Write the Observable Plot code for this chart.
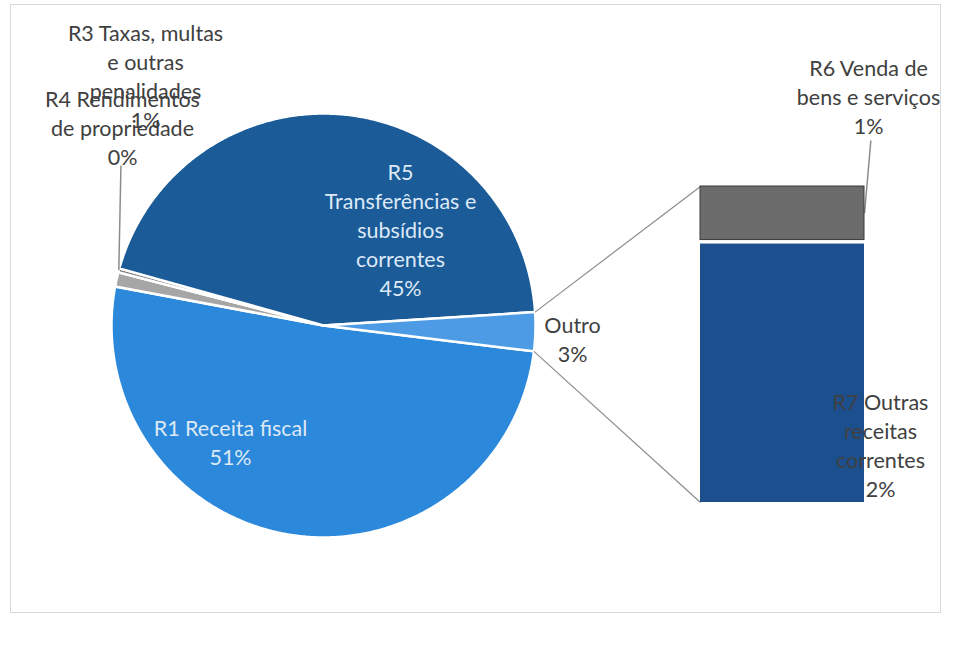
<!DOCTYPE html>
<html><head><meta charset="utf-8">
<script src="https://cdn.jsdelivr.net/npm/d3@7"></script>
<script src="https://cdn.jsdelivr.net/npm/@observablehq/plot@0.6"></script>
<style>body{margin:0;background:#fff;font-family:Lato,sans-serif}</style>
</head><body><div id="chart"></div>
<script>
// ---- data ----
const pieCategories = ["R1 Receita fiscal", "R3 Taxas, multas e outras penalidades", "R4 Rendimentos de propriedade", "R5 Transferências e subsídios correntes"];
const pieValues = [51.0, 1.1, 0.3, 44.65];
const barCategories = ["R6 Venda de bens e serviços", "R7 Outras receitas correntes"];
const barValues = [0.5, 2.45];
const otherName = "Outro";
// label text with line breaks as in the reference
const pieLabelText = ["R1 Receita fiscal", "R3 Taxas, multas\ne outras\npenalidades", "R4 Rendimentos\nde propriedade", "R5\nTransferências e\nsubsídios\ncorrentes"];
const barLabelText = ["R6 Venda de\nbens e serviços", "R7 Outras\nreceitas\ncorrentes"];

// ---- styles / layout ----
const pieColors = ["#2b88da", "#a6a6a6", "#7f7f7f", "#1b5b98"];
const otherColor = "#4c9be4";
const barColors = ["#6c6c6c", "#1c4f8e"];
const W = 954, H = 654, cx = 323, cy = 325, R = 212;
const startAngle = 97; // degrees clockwise from 12 o'clock
const barPx = {left: 700, right: 864, top: 186, bottom: 502};
const pieLabelPx = [[230, 441, "#dde9f6"], [145, 75, "#404040"], [122, 126, "#404040"], [400, 228, "#dde9f6"]];
const otherLabelPx = [572, 338];
const barLabelPx = [[868, 95], [880, 444]];
const ux = px => (px - cx) / R, uy = py => (cy - py) / R;
const fmt = v => Math.round(v) + "%";

// ---- derived geometry ----
const total = d3.sum(pieValues) + d3.sum(barValues);
const otherValue = d3.sum(barValues);
const slices = [];
let a = startAngle;
pieCategories.forEach((c, i) => {
  const span = pieValues[i] / total * 360;
  slices.push({name: c, value: pieValues[i], a0: a, a1: a + span, color: pieColors[i]});
  a += span;
});
slices.push({name: otherName, value: otherValue, a0: a, a1: a + otherValue / total * 360, color: otherColor});
const pt = (deg, r = 1) => ({x: r * Math.sin(deg * Math.PI / 180), y: r * Math.cos(deg * Math.PI / 180)});
function wedge(s) {
  const pts = [{x: 0, y: 0}];
  const n = Math.max(2, Math.ceil((s.a1 - s.a0) / 0.5));
  for (let i = 0; i <= n; i++) pts.push(pt(s.a0 + (s.a1 - s.a0) * i / n));
  pts.push({x: 0, y: 0});
  return pts;
}
const bTop = uy(barPx.top), bBot = uy(barPx.bottom), bL = ux(barPx.left), bR = ux(barPx.right);
const k = (bTop - bBot) / otherValue;
let cum = 0;
const barRows = barCategories.map((c, i) => {
  const r = {name: c, value: barValues[i], y2: bTop - cum * k, y1: bTop - (cum + barValues[i]) * k, color: barColors[i]};
  cum += barValues[i];
  return r;
});
const otherSlice = slices[slices.length - 1];
const connectors = [
  {from: pt(otherSlice.a0), to: {x: bL, y: bTop}},
  {from: pt(otherSlice.a1), to: {x: bL, y: bBot}}
];
const r4 = slices[2];
const r4pt = pt((r4.a0 + r4.a1) / 2);
const leaders = [
  {x1: r4pt.x, y1: r4pt.y, x2: r4pt.x + 0.01, y2: uy(165)},
  {x1: bR, y1: (barRows[0].y1 + barRows[0].y2) / 2, x2: bR + 0.03, y2: uy(140)}
];
const pieLabels = slices.slice(0, 4).map((s, i) => ({
  text: pieLabelText[i] + "\n" + fmt(s.value), x: ux(pieLabelPx[i][0]), y: uy(pieLabelPx[i][1]), color: pieLabelPx[i][2]
}));
const barLabels = barRows.map((b, i) => ({text: barLabelText[i] + "\n" + fmt(b.value), x: ux(barLabelPx[i][0]), y: uy(barLabelPx[i][1])}));
const otherLabel = [{text: otherName + "\n" + fmt(otherValue), x: ux(otherLabelPx[0]), y: uy(otherLabelPx[1])}];

const textOpts = {fontSize: 21.5, lineHeight: 1.35, fontFamily: "Lato, sans-serif", textAnchor: "middle", lineAnchor: "middle"};

const chart = Plot.plot({
  width: W, height: H,
  margin: 0,
  x: {domain: [ux(0), ux(W)], range: [0, W], axis: null},
  y: {domain: [uy(H), uy(0)], range: [H, 0], axis: null},
  style: {background: "#fff"},
  marks: [
    Plot.frame({stroke: "#d9d9d9", insetLeft: 10, insetTop: 4, insetRight: 14, insetBottom: 42}),
    ...slices.map(s => Plot.line(wedge(s), {x: "x", y: "y", fill: s.color, stroke: "white", strokeWidth: 2.5, strokeLinejoin: "round"})),
    Plot.link(connectors, {x1: d => d.from.x, y1: d => d.from.y, x2: d => d.to.x, y2: d => d.to.y, stroke: "#8c8c8c", strokeWidth: 1.2}),
    Plot.link(leaders, {x1: "x1", y1: "y1", x2: "x2", y2: "y2", stroke: "#8c8c8c", strokeWidth: 1.5}),
    Plot.rect(barRows.slice(0, 1), {x1: bL, x2: bR, y1: "y1", y2: "y2", fill: "color", stroke: "#3a3a3a", strokeWidth: 1}),
    Plot.rect(barRows.slice(1), {x1: bL, x2: bR, y1: "y1", y2: "y2", fill: "color", insetTop: 4}),
    Plot.text(pieLabels, {x: "x", y: "y", text: "text", fill: "color", ...textOpts}),
    Plot.text(otherLabel, {x: "x", y: "y", text: "text", fill: "#404040", ...textOpts}),
    Plot.text(barLabels, {x: "x", y: "y", text: "text", fill: "#404040", ...textOpts})
  ]
});
document.getElementById("chart").appendChild(chart);
</script>
</body></html>
